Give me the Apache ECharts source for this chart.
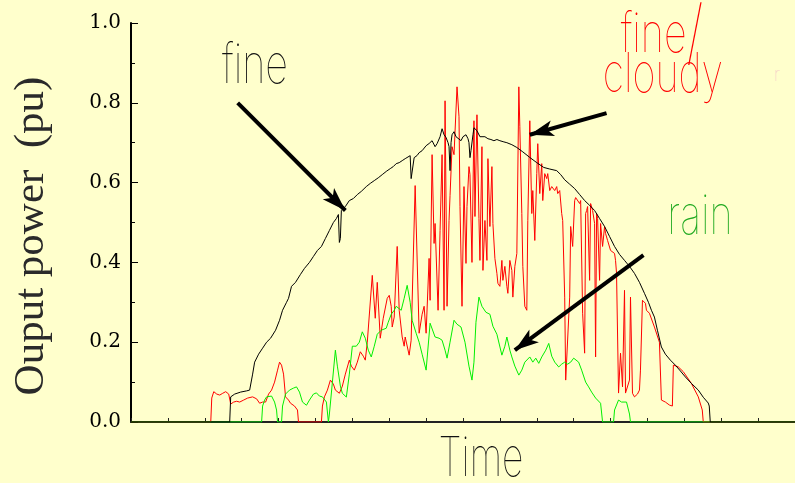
<!DOCTYPE html>
<html>
<head>
<meta charset="utf-8">
<script src="https://cdn.jsdelivr.net/npm/echarts@6/dist/echarts.min.js"></script>
<style>
  html, body { margin: 0; padding: 0; background: #FFFFCC; }
  #main { width: 795px; height: 483px; }
</style>
</head>
<body>
<div id="main"></div>
<script>
// time in samples (0..666), output power in pu
var fineLine = [
  [0,0],[99,0],[100,0.063],[104,0.07],[110,0.075],[116,0.078],[119,0.08],[122,0.12],[124,0.15],[128,0.17],
  [132,0.185],[136,0.2],[140,0.21],[145,0.23],[149,0.255],[152,0.28],[156,0.3],[158,0.31],[161,0.34],[165,0.35],
  [170,0.37],[174,0.385],[179,0.40],[183,0.415],[187,0.43],[191,0.44],[195,0.46],[199,0.48],[203,0.5],[206,0.51],
  [208,0.52],[209,0.45],[210,0.46],[211,0.53],[215,0.54],[219,0.555],[223,0.56],[227,0.57],[231,0.578],[236,0.59],
  [240,0.598],[244,0.605],[248,0.612],[252,0.62],[256,0.628],[260,0.635],[263,0.64],[266,0.6475],[269,0.65],[272,0.655],
  [275,0.66],[277,0.665],[280,0.6675],[281,0.61],[282,0.613],[284,0.6625],[287,0.668],[289,0.675],[292,0.68],[296,0.6925],
  [299,0.698],[302,0.705],[305,0.69],[307,0.6975],[310,0.715],[312,0.735],[314,0.72],[316,0.713],[318,0.70],[319,0.69],
  [320,0.63],[321,0.7],[322,0.72],[324,0.7275],[326,0.715],[328,0.72],[331,0.705],[333,0.715],[336,0.72],[338,0.71],
  [339,0.7],[340,0.6625],[341,0.68],[343,0.72],[344,0.7375],[347,0.73],[350,0.715],[352,0.71],[355,0.715],[358,0.71],
  [361,0.708],[364,0.705],[367,0.708],[370,0.705],[374,0.702],[377,0.70],[382,0.695],[387,0.688],[393,0.677],[400,0.663],
  [407,0.65],[414,0.638],[420,0.634],[427,0.63],[431,0.62],[435,0.607],[440,0.596],[445,0.585],[450,0.57],[455,0.555],
  [460,0.543],[465,0.53],[470,0.51],[475,0.49],[480,0.465],[485,0.44],[490,0.42],[495,0.405],[500,0.39],[505,0.3725],
  [510,0.35],[515,0.3225],[519,0.3],[522,0.28],[525,0.263],[528,0.23],[532,0.188],[536,0.17],[541,0.155],[546,0.1425],
  [551,0.128],[556,0.113],[562,0.097],[569,0.08],[574,0.062],[579,0.0475],[580,0.04],[581,0],[666,0]
];
var cloudyLine = [
  [0,0],[80,0],[81,0.06],[83,0.076],[86,0.07],[89,0.0675],[92,0.072],[95,0.076],[98,0.07],[100,0.045],
  [103,0.05],[106,0.052],[109,0.05],[113,0.055],[117,0.06],[122,0.063],[126,0.058],[129,0.047],[132,0.05],[135,0.05],
  [138,0.07],[141,0.08],[144,0.10],[147,0.13],[149,0.15],[151,0.1425],[153,0.12],[155,0.063],[158,0.055],[160,0.047],
  [164,0.04],[167,0.03],[168,0],[191,0],[192,0.04],[194,0.063],[197,0.08],[200,0.105],[203,0.095],[205,0.08],
  [209,0.072],[212,0.09],[215,0.12],[219,0.155],[221,0.14],[224,0.13],[227,0.15],[230,0.176],[233,0.165],[235,0.155],
  [237,0.2],[242,0.3675],[245,0.26],[247,0.35],[250,0.21],[253,0.26],[257,0.31],[259,0.3175],[261,0.29],[262,0.238],
  [264,0.263],[267,0.44],[269,0.28],[272,0.213],[274,0.19],[275,0.213],[279,0.1675],[281,0.205],[285,0.5925],[289,0.2225],
  [292,0.27],[294,0.29],[296,0.2225],[299,0.41],[300,0.305],[302,0.67],[304,0.4475],[305,0.4975],[308,0.28],[310,0.48],
  [312,0.67],[314,0.28],[315,0.805],[317,0.29],[319,0.505],[320,0.5675],[322,0.69],[324,0.67],[327,0.84],[329,0.765],
  [330,0.54],[332,0.29],[334,0.59],[336,0.3975],[337,0.54],[339,0.64],[340,0.62],[342,0.40],[344,0.755],[345,0.515],
  [347,0.77],[349,0.51],[350,0.405],[352,0.69],[353,0.38],[355,0.505],[357,0.405],[358,0.66],[360,0.49],[362,0.64],
  [363,0.4975],[365,0.41],[367,0.3725],[368,0.3475],[370,0.34],[372,0.405],[373,0.355],[375,0.39],[377,0.34],[378,0.3225],
  [380,0.405],[382,0.38],[383,0.313],[385,0.39],[387,0.4225],[389,0.84],[390,0.74],[392,0.5225],[393,0.39],[395,0.29],
  [397,0.28],[398,0.505],[400,0.755],[402,0.5225],[403,0.58],[405,0.455],[407,0.6225],[408,0.6975],[410,0.5725],[412,0.6475],
  [413,0.555],[415,0.6225],[417,0.61],[418,0.6225],[420,0.58],[422,0.59],[425,0.58],[427,0.59],[428,0.5725],[430,0.58],
  [432,0.5225],[433,0.505],[435,0.313],[436,0.105],[438,0.105],[440,0.313],[441,0.49],[443,0.44],[445,0.555],[446,0.5625],
  [448,0.5675],[450,0.5475],[451,0.555],[453,0.2725],[455,0.1725],[456,0.5225],[457,0.53],[458,0.54],[460,0.355],[461,0.5475],
  [463,0.53],[465,0.4975],[466,0.163],[467,0.5225],[468,0.51],[470,0.355],[471,0.4975],[473,0.44],[475,0.49],[476,0.4725],
  [478,0.455],[481,0.43],[485,0.4225],[486,0.405],[487,0.3725],[489,0.0725],[491,0.1725],[493,0.088],[495,0.33],[496,0.0725],
  [498,0.0725],[500,0.105],[501,0.313],[503,0.072],[505,0.063],[508,0.07],[510,0.08],[511,0.13],[513,0.305],[516,0.2975],
  [517,0.28],[520,0.2725],[525,0.238],[530,0.2],[532,0.055],[536,0.05],[540,0.0425],[543,0.04],[544,0.1425],[549,0.138],
  [554,0.126],[562,0.097],[569,0.063],[573,0.03],[574,0],[666,0]
];
var rainLine = [
  [0,0],[131,0],[132,0.04],[134,0.055],[136,0.063],[138,0.066],[141,0.065],[144,0.05],[146,0.03],[147,0],
  [151,0],[152,0.04],[155,0.07],[159,0.08],[163,0.085],[166,0.088],[169,0.075],[172,0.05],[176,0.042],[179,0.055],
  [183,0.07],[186,0.073],[189,0.065],[192,0.063],[196,0.05],[198,0],[199,0.02],[202,0.1],[205,0.18],[207,0.14],
  [210,0.09],[212,0.072],[216,0.0625],[219,0.12],[222,0.19],[226,0.19],[229,0.2],[232,0.226],[235,0.21],[238,0.18],
  [241,0.163],[244,0.19],[247,0.22],[251,0.23],[256,0.235],[258,0.25],[261,0.27],[264,0.28],[266,0.29],[268,0.285],
  [271,0.28],[274,0.31],[277,0.3425],[280,0.3],[282,0.255],[286,0.2225],[289,0.2],[292,0.17],[296,0.13],[300,0.2475],
  [305,0.213],[309,0.21],[312,0.205],[315,0.18],[317,0.16],[320,0.2],[324,0.255],[327,0.245],[331,0.238],[335,0.2],
  [339,0.14],[342,0.105],[344,0.15],[346,0.25],[349,0.313],[352,0.29],[356,0.275],[360,0.27],[363,0.24],[367,0.22],
  [372,0.1675],[375,0.19],[377,0.213],[380,0.18],[382,0.163],[385,0.14],[389,0.1175],[392,0.13],[395,0.15],[400,0.163],
  [403,0.15],[406,0.16],[409,0.147],[412,0.163],[416,0.18],[419,0.197],[422,0.165],[425,0.15],[429,0.138],[432,0.145],
  [435,0.15],[438,0.145],[441,0.15],[444,0.16],[449,0.15],[452,0.13],[456,0.1],[459,0.088],[462,0.075],[466,0.06],
  [468,0.055],[471,0.047],[473,0],[484,0],[485,0.03],[489,0.055],[492,0.05],[494,0.05],[497,0.05],[499,0.047],
  [500,0.02],[501,0],[666,0]
];
// annotation arrows: [from, to] in data units
var arrows = [
  [[107, 0.80], [215, 0.53]],
  [[477, 0.774], [400, 0.72]],
  [[514, 0.418], [385, 0.18]]
];

var myChart = echarts.init(document.getElementById('main'));

var bigFont = '100 55px Inter';

var option = {
  backgroundColor: '#FFFFCC',
  animation: false,
  grid: { left: 131, top: 23, width: 666, height: 399 },
  xAxis: {
    type: 'value',
    min: 0,
    max: 666,
    interval: 37,
    axisLine: { lineStyle: { color: '#222', width: 2 } },
    axisTick: { inside: true, length: 4, lineStyle: { color: '#222' } },
    axisLabel: { show: false },
    splitLine: { show: false }
  },
  yAxis: {
    type: 'value',
    min: 0,
    max: 1,
    interval: 0.2,
    axisLine: { show: true, lineStyle: { color: '#000', width: 2 } },
    axisTick: { show: true, inside: true, length: 7, lineStyle: { color: '#000' } },
    minorTick: { show: true, splitNumber: 2, length: 4, lineStyle: { color: '#000' } },
    axisLabel: {
      formatter: function (v) { return v.toFixed(1); },
      fontFamily: 'DejaVu Serif',
      fontSize: 20,
      color: '#000',
      margin: 10
    },
    splitLine: { show: false }
  },
  graphic: [
    { type: 'text', x: 32, y: 236, rotation: Math.PI / 2,
      style: { text: 'Ouput power  (pu)', x: 0, y: 0, textAlign: 'center', textVerticalAlign: 'middle',
               font: '43px "Liberation Serif"', fill: '#2a2a2a' } },
    { type: 'text', x: 481, y: 459, scaleX: 0.68,
      style: { text: 'Time', x: 0, y: 0, textAlign: 'center', textVerticalAlign: 'middle', font: bigFont, fill: '#111' } },
    { type: 'text', x: 255, y: 66, scaleX: 0.72,
      style: { text: 'fine', x: 0, y: 0, textAlign: 'center', textVerticalAlign: 'middle', font: bigFont, fill: '#111' } },
    { type: 'text', x: 662, y: 35, scaleX: 0.72,
      style: { text: '{a|fine}{s|/}', x: 0, y: 0, textAlign: 'center', textVerticalAlign: 'middle', fill: '#FF0000',
               rich: { a: { font: bigFont, fill: '#FF0000' }, s: { font: '100 72px Inter', fill: '#FF0000' } } } },
    { type: 'text', x: 663, y: 75, scaleX: 0.72,
      style: { text: 'cloudy', x: 0, y: 0, textAlign: 'center', textVerticalAlign: 'middle', font: bigFont, fill: '#FF0000' } },
    { type: 'text', x: 700, y: 217, scaleX: 0.72,
      style: { text: 'rain', x: 0, y: 0, textAlign: 'center', textVerticalAlign: 'middle', font: bigFont, fill: '#22AA22' } },
    { type: 'text', x: 777, y: 75,
      style: { text: 'r', x: 0, y: 0, textAlign: 'center', textVerticalAlign: 'middle', font: '100 20px Inter', fill: '#F4C8C8' } }
  ],
  series: [
    {
      name: 'fine', type: 'line', data: fineLine, showSymbol: false,
      lineStyle: { color: '#000', width: 1 }, z: 3,
      markLine: {
        silent: true,
        symbol: ['none', 'arrow'],
        symbolSize: [12, 24],
        label: { show: false },
        lineStyle: { color: '#000', width: 4, type: 'solid' },
        emphasis: { disabled: true },
        data: arrows.map(function (a) {
          return [{ coord: a[0] }, { coord: a[1] }];
        })
      }
    },
    {
      name: 'fine/cloudy', type: 'line', data: cloudyLine, showSymbol: false,
      lineStyle: { color: '#FF0000', width: 1 }, z: 2
    },
    {
      name: 'rain', type: 'line', data: rainLine, showSymbol: false,
      lineStyle: { color: '#00EE00', width: 1 }, z: 2
    }
  ]
};

myChart.setOption(option);
</script>
</body>
</html>
